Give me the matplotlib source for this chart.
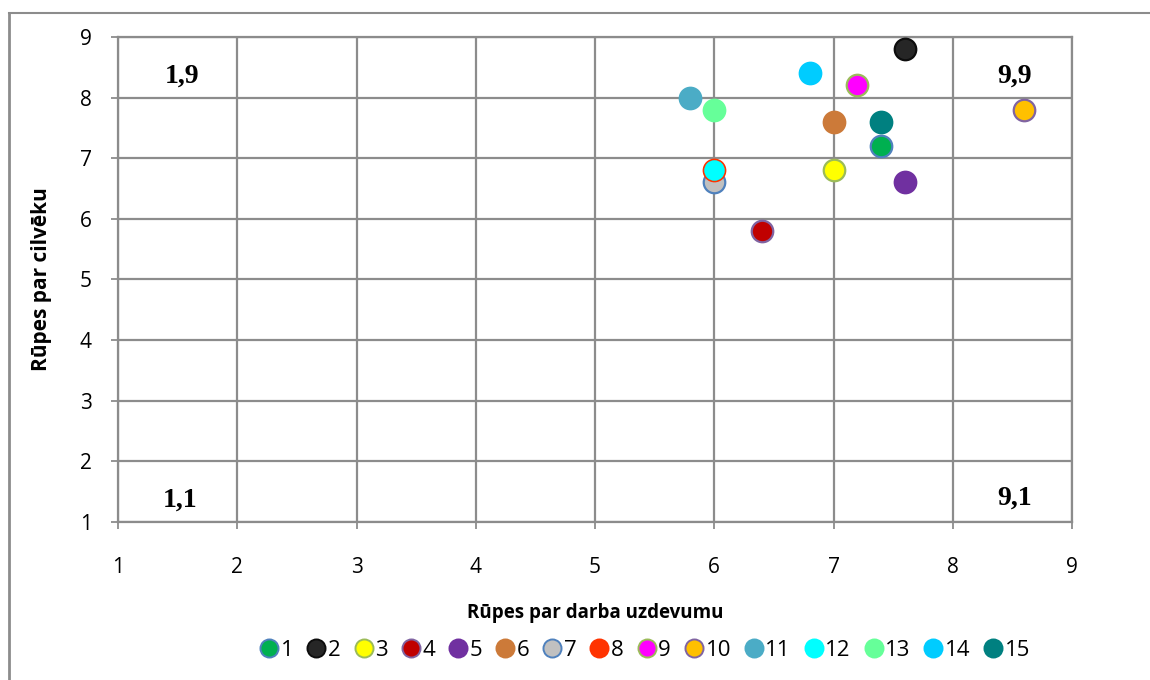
import matplotlib
matplotlib.use("Agg")
import matplotlib.pyplot as plt
from matplotlib.lines import Line2D

# Series data: one point per respondent
labels = ["1", "2", "3", "4", "5", "6", "7", "8", "9", "10", "11", "12", "13", "14", "15"]
task_care = [7.4, 7.6, 7.0, 6.4, 7.6, 7.0, 6.0, 6.0, 7.2, 8.6, 5.8, 6.0, 6.0, 6.8, 7.4]
people_care = [7.2, 8.8, 6.8, 5.8, 6.6, 7.6, 6.6, 6.8, 8.2, 7.8, 8.0, 6.8, 7.8, 8.4, 7.6]
face_colors = ["#00B050", "#262626", "#FFFF00", "#C00000", "#7030A0", "#CC7A39",
               "#C0C0C0", "#FF3300", "#FF00FF", "#FFC000", "#4BACC6", "#00FFFF",
               "#66FF99", "#00CCFF", "#008080"]
edge_colors = ["#4F81BD", "#0D0D0D", "#9BBB59", "#8064A2", "#7030A0", "#CC7A39",
               "#4F81BD", "#FF3300", "#9BBB59", "#8064A2", "#4BACC6", "#00FFFF",
               "#66FF99", "#00CCFF", "#008080"]

# Grid corner annotations
corner_text = ["1,9", "9,9", "1,1", "9,1"]
corner_x = [1.54, 8.52, 1.52, 8.52]
corner_y = [8.35, 8.35, 1.36, 1.40]

x_title = "Rūpes par darba uzdevumu"
y_title = "Rūpes par cilvēku"

sans = ["Open Sans", "DejaVu Sans"]
plt.rcParams["font.family"] = sans

fig = plt.figure(figsize=(11.5, 6.8), dpi=100)
ax = fig.add_axes([0.1026, 0.2324, 0.8296, 0.7132])

grid_c = "#8C8C8C"
ax.set_xlim(1, 9)
ax.set_ylim(1, 9)
ax.set_xticks(range(1, 10))
ax.set_yticks(range(1, 10))
ax.grid(True, color=grid_c, linewidth=1.6)
ax.set_axisbelow(True)
for s in ax.spines.values():
    s.set_color(grid_c)
    s.set_linewidth(1.6)
ax.tick_params(axis="both", colors=grid_c, length=5, width=1.3,
               labelcolor="black", labelsize=15)
ax.tick_params(axis="x", pad=20)
ax.tick_params(axis="y", pad=14)

# Draw series in order, 12 slightly smaller so 8 shows as a ring
for i, lab in enumerate(labels):
    ms = 15.5 if lab != "12" else 13.2
    ax.plot(task_care[i], people_care[i], marker="o", linestyle="none",
            markersize=ms, markerfacecolor=face_colors[i],
            markeredgecolor=edge_colors[i], markeredgewidth=1.6,
            zorder=3 + i, clip_on=False)

for t, cx, cy in zip(corner_text, corner_x, corner_y):
    ax.text(cx, cy, t, family=["Liberation Serif", "DejaVu Serif"],
            fontweight="bold", fontsize=20, ha="center", va="center")

ax.set_xlabel(x_title, fontsize=13.5, fontweight="bold", labelpad=18)
ax.set_ylabel(y_title, fontsize=15, fontweight="bold", labelpad=20)

handles = [Line2D([], [], marker="o", linestyle="none", markersize=13,
                  markerfacecolor=face_colors[i], markeredgecolor=edge_colors[i],
                  markeredgewidth=1.4) for i in range(len(labels))]
fig.legend(handles, labels, loc="center", bbox_to_anchor=(0.561, 0.044),
           ncol=len(labels), frameon=False, fontsize=16, handlelength=0.85,
           handletextpad=0.1, columnspacing=0.6, borderaxespad=0)

# Chart-area frame (left and top edges)
fig.add_artist(Line2D([0.0075, 0.0075], [0.0, 0.981], transform=fig.transFigure,
                      color="#8C8C8C", linewidth=2))
fig.add_artist(Line2D([0.0075, 1.0], [0.981, 0.981], transform=fig.transFigure,
                      color="#8C8C8C", linewidth=1.5))

fig.savefig("out.png", dpi=100)
